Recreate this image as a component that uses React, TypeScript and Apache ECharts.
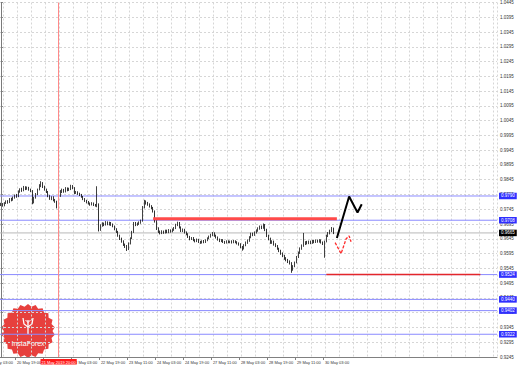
import React, { useEffect, useRef } from "react";
import * as echarts from "echarts";

// H1 candles: [open, close, low, high]
const candles: number[][] = [
  [0.9760, 0.9763, 0.9756, 0.9767], [0.9763, 0.9758, 0.9754, 0.9766], [0.9758, 0.9766, 0.9755, 0.9769], [0.9766, 0.9771, 0.9763, 0.9775],
  [0.9771, 0.9768, 0.9764, 0.9776], [0.9768, 0.9780, 0.9766, 0.9783], [0.9780, 0.9776, 0.9772, 0.9784], [0.9776, 0.9785, 0.9774, 0.9788],
  [0.9785, 0.9792, 0.9781, 0.9795], [0.9792, 0.9788, 0.9784, 0.9797], [0.9788, 0.9806, 0.9786, 0.9809], [0.9806, 0.9812, 0.9801, 0.9816],
  [0.9812, 0.9809, 0.9804, 0.9818], [0.9809, 0.9820, 0.9806, 0.9824], [0.9820, 0.9815, 0.9810, 0.9823], [0.9815, 0.9818, 0.9811, 0.9822],
  [0.9818, 0.9812, 0.9808, 0.9821], [0.9812, 0.9808, 0.9803, 0.9815], [0.9808, 0.9768, 0.9762, 0.9810], [0.9768, 0.9784, 0.9765, 0.9787],
  [0.9784, 0.9796, 0.9781, 0.9800], [0.9796, 0.9812, 0.9793, 0.9815], [0.9812, 0.9826, 0.9809, 0.9830], [0.9826, 0.9835, 0.9820, 0.9840],
  [0.9835, 0.9821, 0.9817, 0.9837], [0.9821, 0.9812, 0.9808, 0.9825], [0.9812, 0.9804, 0.9800, 0.9815], [0.9804, 0.9790, 0.9786, 0.9807],
  [0.9790, 0.9781, 0.9777, 0.9793], [0.9781, 0.9786, 0.9776, 0.9789], [0.9786, 0.9777, 0.9772, 0.9789], [0.9777, 0.9772, 0.9767, 0.9780],
  [0.9772, 0.9756, 0.9748, 0.9774], [0.9756, 0.9790, 0.9752, 0.9793], [0.9790, 0.9806, 0.9787, 0.9810], [0.9806, 0.9811, 0.9800, 0.9815],
  [0.9811, 0.9805, 0.9801, 0.9814], [0.9805, 0.9816, 0.9802, 0.9820], [0.9816, 0.9810, 0.9806, 0.9819], [0.9810, 0.9814, 0.9807, 0.9818],
  [0.9814, 0.9823, 0.9810, 0.9828], [0.9823, 0.9818, 0.9813, 0.9827], [0.9818, 0.9800, 0.9796, 0.9820], [0.9800, 0.9804, 0.9797, 0.9807],
  [0.9804, 0.9798, 0.9794, 0.9806], [0.9798, 0.9795, 0.9790, 0.9801], [0.9795, 0.9788, 0.9784, 0.9797], [0.9788, 0.9780, 0.9776, 0.9790],
  [0.9780, 0.9774, 0.9770, 0.9783], [0.9774, 0.9770, 0.9765, 0.9777], [0.9770, 0.9765, 0.9761, 0.9773], [0.9765, 0.9762, 0.9757, 0.9768],
  [0.9762, 0.9766, 0.9758, 0.9769], [0.9766, 0.9760, 0.9756, 0.9768], [0.9760, 0.9758, 0.9754, 0.9763], [0.9758, 0.9762, 0.9752, 0.9823],
  [0.9762, 0.9676, 0.9670, 0.9765], [0.9676, 0.9690, 0.9672, 0.9694], [0.9690, 0.9697, 0.9686, 0.9701], [0.9697, 0.9693, 0.9688, 0.9700],
  [0.9693, 0.9701, 0.9690, 0.9705], [0.9701, 0.9695, 0.9691, 0.9704], [0.9695, 0.9699, 0.9690, 0.9703], [0.9699, 0.9694, 0.9689, 0.9702],
  [0.9694, 0.9688, 0.9684, 0.9697], [0.9688, 0.9678, 0.9674, 0.9690], [0.9678, 0.9670, 0.9665, 0.9681], [0.9670, 0.9656, 0.9652, 0.9672],
  [0.9656, 0.9646, 0.9641, 0.9659], [0.9646, 0.9637, 0.9632, 0.9649], [0.9637, 0.9626, 0.9621, 0.9640], [0.9626, 0.9620, 0.9614, 0.9629],
  [0.9620, 0.9610, 0.9604, 0.9624], [0.9610, 0.9630, 0.9607, 0.9633], [0.9630, 0.9647, 0.9626, 0.9650], [0.9647, 0.9668, 0.9644, 0.9672],
  [0.9668, 0.9698, 0.9665, 0.9702], [0.9698, 0.9692, 0.9688, 0.9702], [0.9692, 0.9696, 0.9689, 0.9700], [0.9696, 0.9700, 0.9692, 0.9704],
  [0.9700, 0.9706, 0.9696, 0.9710], [0.9706, 0.9752, 0.9703, 0.9756], [0.9752, 0.9772, 0.9748, 0.9777], [0.9772, 0.9766, 0.9761, 0.9775],
  [0.9766, 0.9762, 0.9757, 0.9770], [0.9762, 0.9756, 0.9751, 0.9765], [0.9756, 0.9750, 0.9745, 0.9759], [0.9750, 0.9738, 0.9734, 0.9753],
  [0.9738, 0.9705, 0.9700, 0.9741], [0.9705, 0.9680, 0.9675, 0.9708], [0.9680, 0.9670, 0.9665, 0.9684], [0.9670, 0.9664, 0.9660, 0.9673],
  [0.9664, 0.9670, 0.9661, 0.9674], [0.9670, 0.9666, 0.9662, 0.9673], [0.9666, 0.9673, 0.9663, 0.9676], [0.9673, 0.9668, 0.9664, 0.9676],
  [0.9668, 0.9674, 0.9664, 0.9678], [0.9674, 0.9670, 0.9666, 0.9677], [0.9670, 0.9676, 0.9667, 0.9680], [0.9676, 0.9681, 0.9672, 0.9685],
  [0.9681, 0.9692, 0.9678, 0.9696], [0.9692, 0.9699, 0.9688, 0.9703], [0.9699, 0.9684, 0.9680, 0.9702], [0.9684, 0.9672, 0.9668, 0.9687],
  [0.9672, 0.9676, 0.9668, 0.9680], [0.9676, 0.9667, 0.9663, 0.9679], [0.9667, 0.9661, 0.9657, 0.9670], [0.9661, 0.9652, 0.9648, 0.9664],
  [0.9652, 0.9645, 0.9640, 0.9655], [0.9645, 0.9648, 0.9641, 0.9651], [0.9648, 0.9641, 0.9637, 0.9651], [0.9641, 0.9638, 0.9633, 0.9644],
  [0.9638, 0.9642, 0.9634, 0.9646], [0.9642, 0.9635, 0.9631, 0.9645], [0.9635, 0.9632, 0.9628, 0.9638], [0.9632, 0.9637, 0.9629, 0.9640],
  [0.9637, 0.9634, 0.9630, 0.9641], [0.9634, 0.9640, 0.9631, 0.9643], [0.9640, 0.9647, 0.9637, 0.9650], [0.9647, 0.9653, 0.9644, 0.9656],
  [0.9653, 0.9658, 0.9649, 0.9662], [0.9658, 0.9664, 0.9654, 0.9668], [0.9664, 0.9656, 0.9652, 0.9667], [0.9656, 0.9650, 0.9646, 0.9659],
  [0.9650, 0.9643, 0.9639, 0.9653], [0.9643, 0.9638, 0.9634, 0.9646], [0.9638, 0.9641, 0.9634, 0.9644], [0.9641, 0.9635, 0.9631, 0.9644],
  [0.9635, 0.9632, 0.9628, 0.9638], [0.9632, 0.9637, 0.9629, 0.9640], [0.9637, 0.9634, 0.9630, 0.9640], [0.9634, 0.9636, 0.9630, 0.9639],
  [0.9636, 0.9633, 0.9629, 0.9640], [0.9633, 0.9637, 0.9630, 0.9641], [0.9637, 0.9634, 0.9630, 0.9640], [0.9634, 0.9630, 0.9626, 0.9637],
  [0.9630, 0.9627, 0.9622, 0.9633], [0.9627, 0.9618, 0.9613, 0.9630], [0.9618, 0.9612, 0.9605, 0.9621], [0.9612, 0.9624, 0.9609, 0.9627],
  [0.9624, 0.9632, 0.9620, 0.9636], [0.9632, 0.9639, 0.9628, 0.9643], [0.9639, 0.9650, 0.9635, 0.9654], [0.9650, 0.9662, 0.9647, 0.9666],
  [0.9662, 0.9658, 0.9654, 0.9666], [0.9658, 0.9667, 0.9655, 0.9670], [0.9667, 0.9673, 0.9663, 0.9677], [0.9673, 0.9680, 0.9669, 0.9684],
  [0.9680, 0.9686, 0.9676, 0.9690], [0.9686, 0.9682, 0.9678, 0.9690], [0.9682, 0.9692, 0.9679, 0.9697], [0.9692, 0.9676, 0.9671, 0.9695],
  [0.9676, 0.9656, 0.9651, 0.9679], [0.9656, 0.9645, 0.9640, 0.9659], [0.9645, 0.9632, 0.9628, 0.9649], [0.9632, 0.9636, 0.9628, 0.9640],
  [0.9636, 0.9626, 0.9622, 0.9639], [0.9626, 0.9621, 0.9617, 0.9630], [0.9621, 0.9612, 0.9608, 0.9624], [0.9612, 0.9605, 0.9600, 0.9615],
  [0.9605, 0.9596, 0.9591, 0.9608], [0.9596, 0.9588, 0.9583, 0.9599], [0.9588, 0.9579, 0.9574, 0.9591], [0.9579, 0.9574, 0.9569, 0.9583],
  [0.9574, 0.9568, 0.9563, 0.9577], [0.9568, 0.9563, 0.9558, 0.9572], [0.9563, 0.9541, 0.9530, 0.9566], [0.9541, 0.9552, 0.9537, 0.9556],
  [0.9552, 0.9565, 0.9549, 0.9568], [0.9565, 0.9583, 0.9562, 0.9587], [0.9583, 0.9598, 0.9580, 0.9602], [0.9598, 0.9612, 0.9594, 0.9616],
  [0.9612, 0.9622, 0.9608, 0.9626], [0.9622, 0.9628, 0.9618, 0.9665], [0.9628, 0.9633, 0.9624, 0.9637], [0.9633, 0.9630, 0.9626, 0.9638],
  [0.9630, 0.9635, 0.9627, 0.9639], [0.9635, 0.9631, 0.9627, 0.9639], [0.9631, 0.9637, 0.9628, 0.9641], [0.9637, 0.9634, 0.9630, 0.9641],
  [0.9634, 0.9639, 0.9631, 0.9643], [0.9639, 0.9636, 0.9632, 0.9642], [0.9636, 0.9640, 0.9632, 0.9644], [0.9640, 0.9633, 0.9629, 0.9643],
  [0.9633, 0.9628, 0.9624, 0.9636], [0.9628, 0.9636, 0.9581, 0.9639], [0.9636, 0.9655, 0.9633, 0.9659], [0.9655, 0.9664, 0.9651, 0.9668],
  [0.9664, 0.9672, 0.9660, 0.9676], [0.9672, 0.9680, 0.9668, 0.9685], [0.9680, 0.9665, 0.9661, 0.9683],
];

const totalBars = 284;
const tickBars = [8, 24, 40, 56, 72, 88, 104, 120, 136, 152, 168, 184];
// the label at bar 24 is hidden behind the event marker in the reference
const tickLabels = [
  "20 May 19:00", "", "22 May 03:00", "22 May 19:00", "23 May 11:00", "24 May 03:00",
  "24 May 19:00", "27 May 11:00", "28 May 03:00", "28 May 19:00", "29 May 11:00", "30 May 03:00",
];
const firstLabel = "20 May 03:00";

const yMin = 0.9245;
const yMax = 1.0445;
const yStep = 0.005;

const blueLevels = [0.979, 0.9708, 0.9524, 0.944, 0.9402, 0.9322];
const currentPrice = 0.9665;
const resistanceLevel = 0.9713;
const resistanceBars = [87, 192];
const supportLevel = 0.9524;
const supportBars = [186, 274];
const eventBar = 33;
const eventLabel = "21 May 2019 20:00";
const arrowPath = [[192, 0.9648], [199, 0.9788], [203.8, 0.9734], [206.2, 0.9762]];
const altPath = [[191, 0.9632], [194.4, 0.9595], [197.3, 0.9645], [199, 0.9655], [200.1, 0.9635]];

const FONT = '"Liberation Sans", Arial, sans-serif';

function levelSeries(v: number, lineColor: string, boxColor: string, z: number) {
  return {
    type: "line",
    xAxisIndex: 1,
    yAxisIndex: 0,
    data: [[-0.5, v], [totalBars - 0.5, v]],
    showSymbol: false,
    symbol: "none",
    silent: true,
    clip: false,
    lineStyle: { color: lineColor, width: 1 },
    endLabel: {
      show: true,
      distance: 2,
      formatter: v.toFixed(4),
      color: "#ffffff",
      backgroundColor: boxColor,
      fontSize: 4.5,
      fontFamily: FONT,
      padding: [1, 2, 0.5, 2],
    },
    z,
  };
}

export default function App() {
  const ref = useRef<HTMLDivElement>(null);
  useEffect(() => {
    if (!ref.current) return;
    const chart = echarts.init(ref.current, undefined, { renderer: "svg" });
    const categories = Array.from({ length: totalBars }, (_, i) => String(i));
    const labelMap: Record<number, string> = {};
    tickBars.forEach((b, k) => (labelMap[b] = tickLabels[k]));

    // decorative InstaForex seal
    const cx = 28, cy = 331, spikes = 22, rO = 27, rI = 24.5;
    const seal: number[][] = [];
    for (let k = 0; k < spikes * 2; k++) {
      const r = k % 2 ? rI : rO;
      const a = (Math.PI * k) / spikes;
      seal.push([cx + r * Math.sin(a), cy - r * Math.cos(a)]);
    }

    chart.setOption({
      animation: false,
      backgroundColor: "#ffffff",
      grid: { left: 0, right: 21, top: 0, bottom: 11, containLabel: false },
      xAxis: [
        {
          type: "category",
          data: categories,
          boundaryGap: true,
          axisLine: { show: true, lineStyle: { color: "#808080", width: 1 } },
          axisTick: {
            show: true,
            alignWithLabel: true,
            length: 3,
            interval: (i: number) => labelMap[i] !== undefined,
            lineStyle: { color: "#808080" },
          },
          axisLabel: {
            show: true,
            interval: (i: number) => !!labelMap[i],
            formatter: (_v: string, i: number) => labelMap[i] ?? "",
            align: "left",
            padding: [0, 0, 0, 2],
            margin: 3,
            fontSize: 4,
            fontFamily: FONT,
            color: "#333333",
          },
          splitLine: {
            show: true,
            interval: (i: number) => i % 8 === 2,
            lineStyle: { color: "#d6d6d6", type: [2, 2], width: 1 },
          },
        },
        {
          type: "value",
          min: -0.5,
          max: totalBars - 0.5,
          show: false,
        },
      ],
      yAxis: {
        type: "value",
        position: "right",
        min: yMin,
        max: yMax,
        interval: yStep,
        axisLine: { show: true, lineStyle: { color: "#7a7a7a", width: 1 } },
        axisTick: { show: true, length: 2, lineStyle: { color: "#7a7a7a" } },
        axisLabel: {
          show: true,
          margin: 3,
          fontSize: 4.5,
          fontFamily: FONT,
          color: "#333333",
          formatter: (v: number) => v.toFixed(4),
        },
        splitLine: { show: true, lineStyle: { color: "#d6d6d6", type: [2, 2], width: 1 } },
      },
      series: [
        ...blueLevels.map((v) => levelSeries(v, "#8a8aff", "#2f2fff", 2)),
        levelSeries(currentPrice, "#b8b8b8", "#000000", 2),
        {
          type: "candlestick",
          xAxisIndex: 0,
          yAxisIndex: 0,
          data: candles,
          barWidth: 1.2,
          itemStyle: {
            color: "#ffffff",
            color0: "#000000",
            borderColor: "#111111",
            borderColor0: "#000000",
            borderWidth: 0.8,
          },
          markLine: {
            silent: true,
            symbol: ["none", "none"],
            animation: false,
            lineStyle: { color: "#ff8a8a", width: 1, type: "solid" },
            label: {
              show: true,
              position: "start",
              distance: 2,
              formatter: eventLabel,
              color: "#ffffff",
              backgroundColor: "#ff1a1a",
              fontSize: 4,
              fontFamily: FONT,
              padding: [1, 1, 0.5, 1],
            },
            data: [{ xAxis: String(eventBar) }],
          },
          z: 3,
        },
        {
          type: "line",
          xAxisIndex: 1,
          yAxisIndex: 0,
          data: resistanceBars.map((b) => [b, resistanceLevel]),
          showSymbol: false,
          symbol: "none",
          lineStyle: { color: "#ff4a4a", width: 3 },
          silent: true,
          z: 4,
        },
        {
          type: "line",
          xAxisIndex: 1,
          yAxisIndex: 0,
          data: supportBars.map((b) => [b, supportLevel]),
          showSymbol: false,
          symbol: "none",
          lineStyle: { color: "#e3262b", width: 1.5 },
          silent: true,
          z: 4,
        },
        {
          type: "line",
          xAxisIndex: 1,
          yAxisIndex: 0,
          data: altPath,
          showSymbol: false,
          symbol: "none",
          lineStyle: { color: "#ff2a2a", width: 1.3, type: [3, 1.5] },
          silent: true,
          z: 5,
        },
        {
          type: "line",
          xAxisIndex: 1,
          yAxisIndex: 0,
          data: arrowPath,
          showSymbol: false,
          symbol: "none",
          lineStyle: { color: "#000000", width: 2 },
          silent: true,
          z: 6,
        },
      ],
      graphic: [
        {
          type: "text",
          x: 13,
          y: 362.5,
          style: {
            text: firstLabel,
            fill: "#333333",
            fontSize: 4,
            fontFamily: FONT,
            align: "right",
            verticalAlign: "middle",
          },
        },
        {
          type: "group",
          z: 100,
          children: [
            { type: "polygon", shape: { points: seal }, style: { fill: "rgba(228,38,34,0.88)" } },
            {
              type: "polyline",
              shape: { points: [[23, 318], [24, 324], [28, 327], [32, 324], [33, 318]] },
              style: { stroke: "#ffffff", lineWidth: 1.3, fill: "none" },
            },
            { type: "line", shape: { x1: 28, y1: 320, x2: 28, y2: 334 }, style: { stroke: "#ffffff", lineWidth: 1.3 } },
            {
              type: "polyline",
              shape: { points: [[25.5, 320], [28, 322.5], [30.5, 320]] },
              style: { stroke: "#ffffff", lineWidth: 1, fill: "none" },
            },
            {
              type: "text",
              x: cx,
              y: 343,
              style: {
                text: "InstaForex",
                fill: "#ffffff",
                fontSize: 7,
                fontFamily: FONT,
                align: "center",
                verticalAlign: "middle",
              },
            },
          ],
        },
      ],
    });
    return () => chart.dispose();
  }, []);
  return (
    <div
      ref={ref}
      style={{ position: "fixed", left: 0, top: 0, width: 518, height: 368, background: "#ffffff" }}
    />
  );
}
